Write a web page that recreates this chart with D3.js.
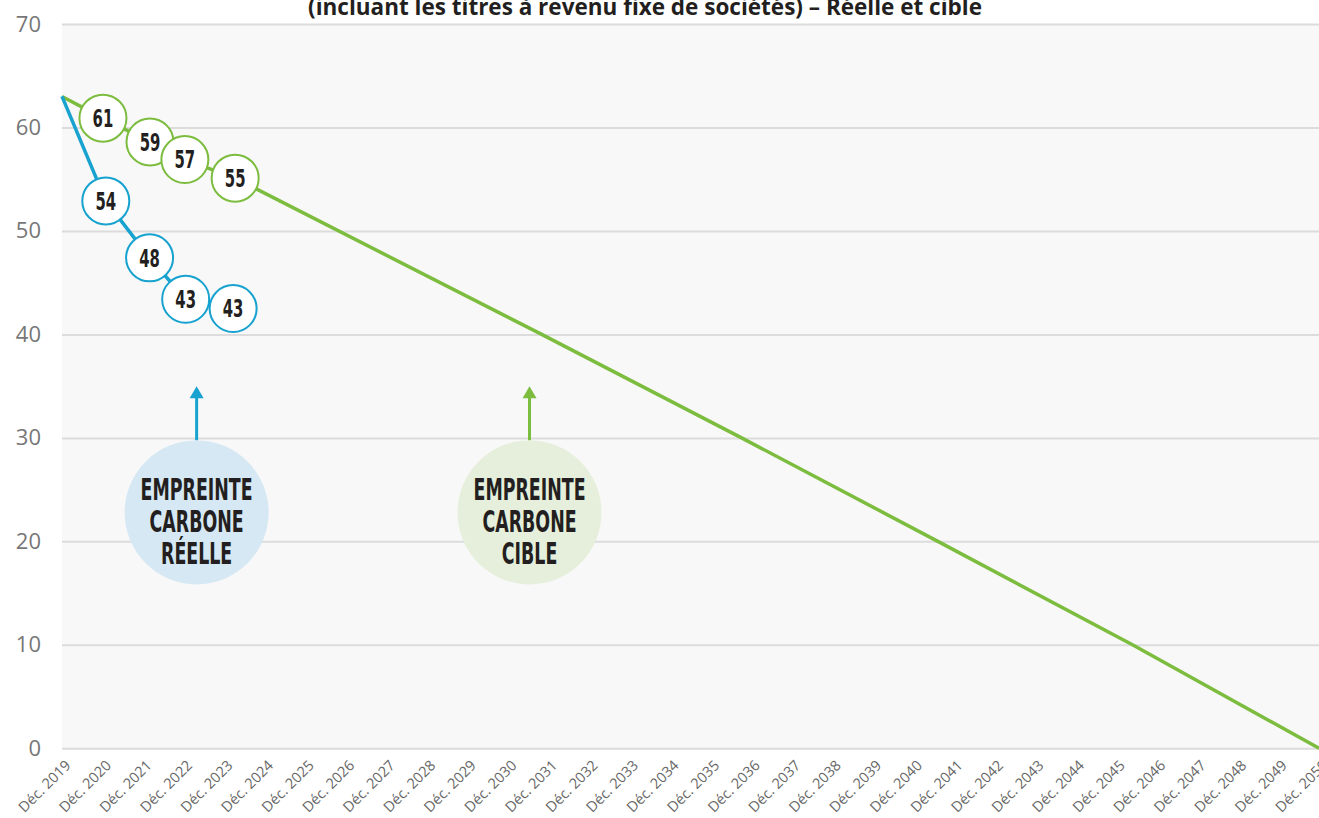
<!DOCTYPE html>
<html>
<head>
<meta charset="utf-8">
<script src="https://cdn.jsdelivr.net/npm/d3@7"></script>
<style>
  body { margin: 0; background: #fff; }
  svg { display: block; }
  .cond { font-family: "DejaVu Sans", sans-serif; font-weight: 700; }
</style>
</head>
<body>
<div id="chart"></div>
<script>
// chart values
const title = "(incluant les titres à revenu fixe de sociétés) – Réelle et cible";
const yTicks = [0, 10, 20, 30, 40, 50, 60, 70];
const tickYears = [2019, 2020, 2021, 2022, 2023, 2024, 2025, 2026, 2027, 2028, 2029, 2030,
    2031, 2032, 2033, 2034, 2035, 2036, 2037, 2038, 2039, 2040, 2041, 2042, 2043, 2044,
    2045, 2046, 2047, 2048, 2049, 2050];

// target footprint (green)
const targetYears  = [2019, 2020.01, 2021.17, 2022.03, 2023.27, 2030.83, 2035.76, 2040.6, 2045.4, 2050];
const targetValues = [63,   60.9,    58.6,    56.9,    55.1,    40,      30,      20,     10,     0];
const targetLabelIdx = [1, 2, 3, 4];
const targetLabels = ["61", "59", "57", "55"];

// actual footprint (blue)
const actualYears  = [2019, 2020.08, 2021.16, 2022.05, 2023.22];
const actualValues = [63,   52.9,    47.4,    43.4,    42.5];
const actualLabelIdx = [1, 2, 3, 4];
const actualLabels = ["54", "48", "43", "43"];

// callouts
const calloutYears  = [2022.32, 2030.53];
const calloutValues = [22.8, 22.8];
const calloutArrowTop = [35.0, 35.0];
const calloutTexts = [["EMPREINTE", "CARBONE", "RÉELLE"], ["EMPREINTE", "CARBONE", "CIBLE"]];

const colours = { actual: "#17a2cf", target: "#7cbc3e", actualFill: "#d6e8f3", targetFill: "#e5efdb" };

const svgWidth = 1319, svgHeight = 818;
const margin = {top: 24, right: 0, bottom: 69, left: 62};

const svg = d3.select("#chart").append("svg")
    .attr("width", svgWidth)
    .attr("height", svgHeight);

const xscale = d3.scaleLinear()
    .domain([2019, 2050])
    .range([margin.left, svgWidth - margin.right]);

const yscale = d3.scaleLinear()
    .domain([0, 70])
    .range([svgHeight - margin.bottom - 0.7, margin.top]);

const width = xscale.range()[1] - xscale.range()[0];

// plot background
svg.append("rect")
    .attr("x", xscale(2019))
    .attr("y", yscale(70))
    .attr("width", width)
    .attr("height", yscale(0) - yscale(70))
    .attr("fill", "#f8f8f8");

// y axis + gridlines
const yAxis = d3.axisLeft(yscale)
    .tickValues(yTicks)
    .tickSizeInner(-width)
    .tickSizeOuter(0)
    .tickPadding(21);

const gY = svg.append("g")
    .attr("class", "axis-y")
    .attr("transform", `translate(${margin.left},0)`)
    .call(yAxis);
gY.select(".domain").remove();
gY.selectAll(".tick line").attr("stroke", "#dcdcdc").attr("stroke-width", 2);
gY.selectAll(".tick text")
    .attr("fill", "#777")
    .style("font-family", "'Open Sans', sans-serif")
    .style("font-size", "22px");

// x axis labels
const xAxis = d3.axisBottom(xscale)
    .tickValues(tickYears)
    .tickSize(0)
    .tickFormat(d => `Déc. ${d}`);

const gX = svg.append("g")
    .attr("class", "axis-x")
    .attr("transform", `translate(0,${yscale(0)})`)
    .call(xAxis);
gX.select(".domain").remove();
gX.selectAll(".tick text")
    .attr("fill", "#666")
    .attr("y", 0).attr("dy", 0)
    .attr("text-anchor", "end")
    .attr("transform", "translate(9,18) rotate(-45)")
    .style("font-family", "'Open Sans', sans-serif")
    .style("font-size", "14.5px");

// title (cut at the top as in the source)
svg.append("text")
    .attr("x", 645)
    .attr("y", 15)
    .attr("text-anchor", "middle")
    .attr("fill", "#231f20")
    .style("font-family", "'Open Sans', sans-serif")
    .style("font-weight", 700)
    .style("font-size", "22.5px")
    .text(title);

const line = d3.line()
    .x(d => xscale(d[0]))
    .y(d => yscale(d[1]));

const targetPts = targetYears.map((d, i) => [d, targetValues[i]]);
const actualPts = actualYears.map((d, i) => [d, actualValues[i]]);

svg.append("path")
    .datum(targetPts)
    .attr("fill", "none")
    .attr("stroke", colours.target)
    .attr("stroke-width", 3.5)
    .attr("stroke-linejoin", "round")
    .attr("d", line);

svg.append("path")
    .datum(actualPts)
    .attr("fill", "none")
    .attr("stroke", colours.actual)
    .attr("stroke-width", 3.5)
    .attr("stroke-linejoin", "round")
    .attr("d", line);

// no condensed face installed, so squeeze the bold glyphs horizontally
function bubbles(pts, idx, labels, colour) {
    const g = svg.append("g");
    const b = g.selectAll("g")
        .data(idx.map((k, i) => ({p: pts[k], label: labels[i]})))
        .join("g")
        .attr("transform", d => `translate(${xscale(d.p[0])},${yscale(d.p[1])})`);
    b.append("circle")
        .attr("r", 23.5)
        .attr("fill", "#fff")
        .attr("stroke", colour)
        .attr("stroke-width", 2);
    b.append("text")
        .attr("class", "cond")
        .attr("text-anchor", "middle")
        .attr("dy", "0.36em")
        .attr("transform", "scale(0.62,1)")
        .attr("fill", "#231f20")
        .style("font-size", "24px")
        .text(d => d.label);
}

bubbles(targetPts, targetLabelIdx, targetLabels, colours.target);
bubbles(actualPts, actualLabelIdx, actualLabels, colours.actual);

// callouts with arrows
const r = 72;
calloutYears.forEach((yr, i) => {
    const cx = xscale(yr), cy = yscale(calloutValues[i]);
    const stroke = i === 0 ? colours.actual : colours.target;
    const fill = i === 0 ? colours.actualFill : colours.targetFill;
    const tip = yscale(calloutArrowTop[i]);

    svg.append("line")
        .attr("x1", cx).attr("x2", cx)
        .attr("y1", cy - r).attr("y2", tip + 8)
        .attr("stroke", stroke)
        .attr("stroke-width", 3);
    svg.append("path")
        .attr("d", `M${cx},${tip} L${cx - 7},${tip + 12} L${cx + 7},${tip + 12} Z`)
        .attr("fill", stroke);

    svg.append("circle")
        .attr("cx", cx).attr("cy", cy)
        .attr("r", r)
        .attr("fill", fill);

    svg.append("g")
        .attr("transform", `translate(${cx},${cy})`)
      .append("text")
        .attr("class", "cond")
        .attr("text-anchor", "middle")
        .attr("transform", "scale(0.58,1)")
        .attr("fill", "#231f20")
        .style("font-size", "30px")
        .selectAll("tspan")
        .data(calloutTexts[i])
        .join("tspan")
            .attr("x", 0)
            .attr("y", (d, j) => 8.5 + (j - 1) * 32)
            .attr("dy", "0.36em")
            .text(d => d);
});
</script>
</body>
</html>
